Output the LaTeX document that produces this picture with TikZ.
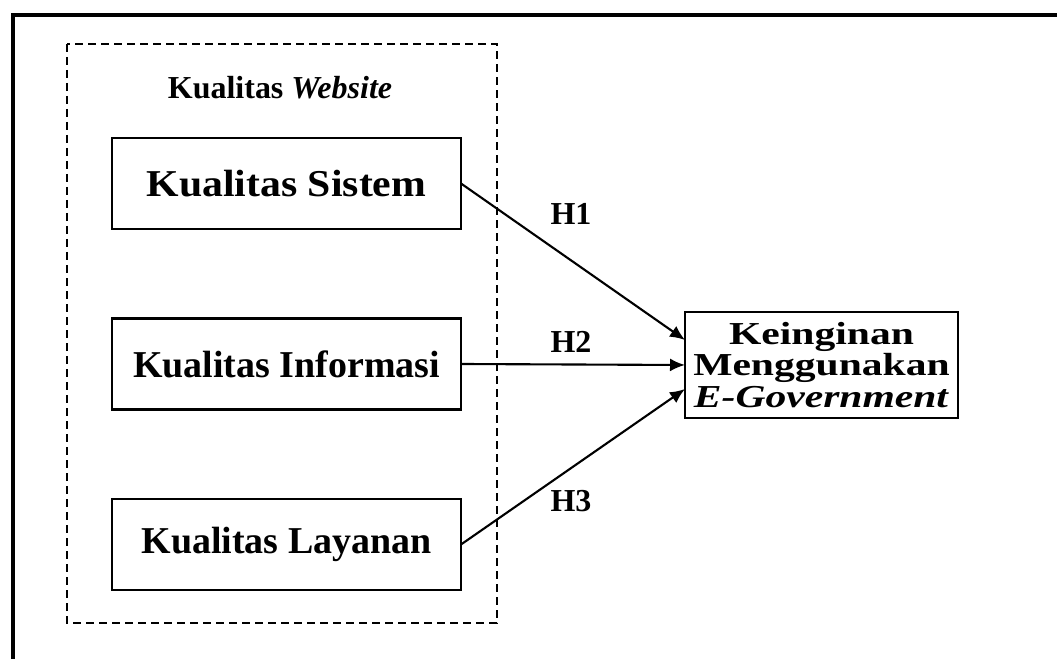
\documentclass[tikz,border=0pt]{standalone}
\usepackage{fontspec}
\setmainfont{Liberation Serif}
\usepackage{graphicx}
\usepackage{tikz}
\usetikzlibrary{arrows.meta,calc,positioning}
\tikzstyle{kotak} =[rectangle, draw, line width=0.6pt,
                    inner sep=0pt, outer sep=0pt,
                    font=\bfseries\fontsize{10.8}{13}\selectfont]
\tikzstyle{panah} =[-{Latex[length=0.15cm,width=0.13cm]},
                    line width=0.6pt]
\tikzstyle{teksH} =[font=\bfseries\fontsize{9.1}{11}\selectfont]

\begin{document}
\begin{tikzpicture}
    \useasboundingbox (0,0) rectangle (10.57,-6.59);

    % bingkai luar
    \draw [line width=1.15pt] (11,-0.15) -- (0.13,-0.15) -- (0.13,-7);

    % kelompok kualitas website
    \draw [line width=0.45pt, dash pattern=on 0.08cm off 0.05cm]
        (0.67,-0.44) rectangle (4.97,-6.23);
    \draw (2.80,-0.88) node (judul) [teksH] {Kualitas \textit{Website}};

    \draw (2.865,-1.835) node (sistem) [kotak, minimum width=3.49cm, minimum height=0.91cm] {\scalebox{1.1}[1]{Kualitas Sistem}};
    \draw (2.865,-3.64) node (informasi) [kotak, minimum width=3.49cm, minimum height=0.91cm] {Kualitas Informasi};
    \draw (2.865,-5.445) node (layanan) [kotak, minimum width=3.49cm, minimum height=0.91cm] {Kualitas Layanan};

    \draw (8.215,-3.65) node (keinginan) [kotak, minimum width=2.73cm, minimum height=1.06cm,
        align=center, font=\bfseries\fontsize{9.1}{8.9}\selectfont]
        {\scalebox{1.3}[1]{Keinginan}\\\scalebox{1.3}[1]{Menggunakan}\\\scalebox{1.3}[1]{\textit{E-Government}}};

    \draw [panah] (sistem.east) to ([yshift=0.25cm]keinginan.west);
    \draw [panah] (informasi.east) to (keinginan.west);
    \draw [panah] (layanan.east) to ([yshift=-0.24cm]keinginan.west);

    \draw (5.71,-2.14) node (h1) [teksH] {H1};
    \draw (5.71,-3.42) node (h2) [teksH] {H2};
    \draw (5.71,-5.01) node (h3) [teksH] {H3};

\end{tikzpicture}
\end{document}
